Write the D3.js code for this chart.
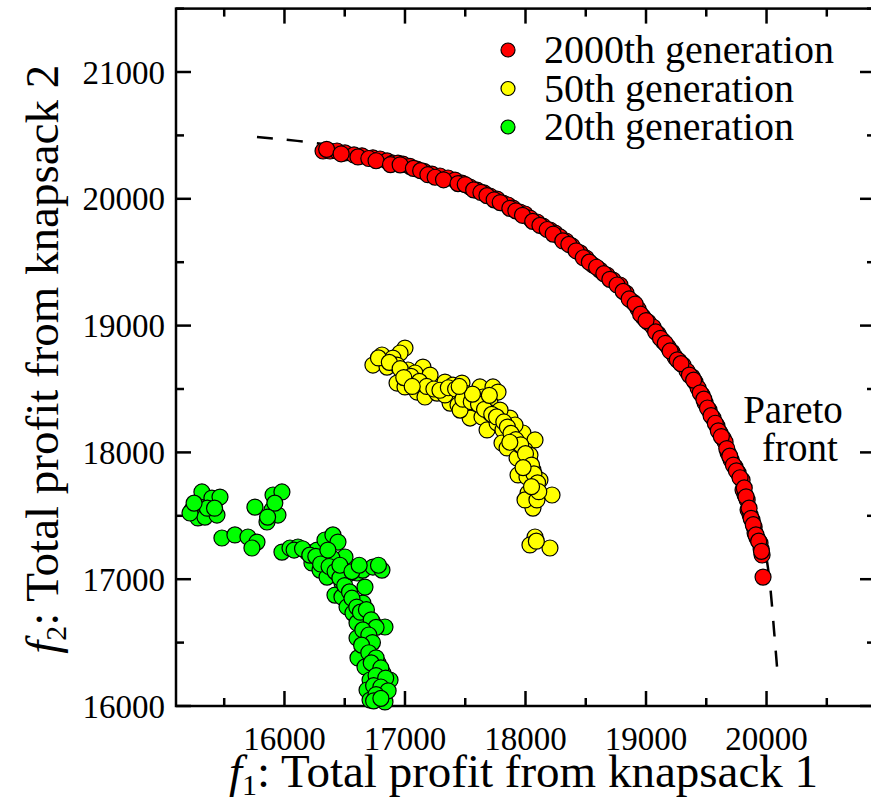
<!DOCTYPE html>
<html>
<head>
<meta charset="utf-8">
<script src="https://cdn.jsdelivr.net/npm/d3@7"></script>
<style>
  body { margin: 0; background: #fff; }
  svg text { font-family: "Liberation Serif", "DejaVu Serif", serif; fill: #000; }
</style>
</head>
<body>
<div id="chart"></div>
<script>
// series, [f1, f2]
var gen2000 = [
  [16320,20377],[16378,20377],[16436,20377],[16502,20362],[16577,20346],[16643,20339],[16734,20323],[16793,20314],
  [16851,20299],[16900,20282],[16942,20282],[16983,20274],[17041,20256],[17099,20235],[17158,20216],[17224,20195],
  [17290,20180],[17357,20164],[17415,20148],[17473,20124],[17539,20093],[17598,20069],[17656,20046],[17705,20022],
  [17764,19998],[17813,19967],[17855,19951],[17896,19927],[17954,19896],[17996,19880],[18037,19848],[18096,19817],
  [18145,19785],[18204,19754],[18245,19730],[18287,19699],[18336,19667],[18386,19628],[18453,19573],[18502,19533],
  [18560,19478],[18618,19438],[18676,19399],[18726,19359],[18784,19320],[18834,19257],[18892,19186],[18934,19131],
  [18975,19068],[19017,19028],[19058,18989],[19100,18934],[19141,18878],[19183,18831],[19216,18792],[19241,18752],
  [19274,18721],[19307,18689],[19340,18642],[19382,18595],[19407,18555],[19432,18508],[19465,18453],[19490,18390],
  [19523,18334],[19556,18271],[19589,18208],[19614,18153],[19639,18113],[19656,18082],[19681,17995],[19706,17940],
  [19739,17885],[19764,17838],[19797,17782],[19805,17703],[19822,17664],[19839,17625],[19847,17546],[19864,17506],
  [19880,17467],[19897,17412],[19905,17364],[19921,17325],[19946,17285],[19955,17238],[19963,17191],[19971,17017],
  [16350,20390],[16470,20355],[16610,20330],[16700,20318],[16760,20300],[16880,20270],[16960,20268],[17070,20240],
  [17130,20222],[17190,20190],[17250,20170],[17320,20150],[17440,20120],[17500,20112],[17570,20070],[17630,20050],
  [17680,20025],[17740,19992],[17790,19970],[17870,19925],[17920,19905],[17975,19870],[18060,19822],[18120,19790],
  [18180,19758],[18230,19722],[18310,19668],[18360,19640],[18420,19590],[18480,19535],[18530,19500],[18590,19460],
  [18650,19410],[18700,19365],[18760,19320],[18810,19270],[18860,19210],[18910,19170],[18955,19090],[19000,19040],
  [19080,18950],[19120,18900],[19160,18860],[19200,18800],[19260,18730],[19290,18700],[19360,18610],[19395,18570],
  [19450,18470],[19480,18420],[19510,18350],[19540,18290],[19575,18230],[19600,18170],[19625,18125],[19670,18030],
  [19695,17970],[19725,17900],[19750,17855],[19780,17800],[19815,17720],[19830,17650],[19855,17560],[19872,17480],
  [19890,17430],[19912,17350],[19935,17300],[19958,17220]
];

var gen50 = [
  [17000,18823],[16959,18784],[16809,18768],[16900,18744],[16734,18689],[16851,18673],[16934,18689],[17025,18650],
  [17149,18673],[17083,18626],[17208,18610],[16934,18547],[17000,18516],[17100,18476],[17166,18437],[17266,18468],
  [17332,18555],[17398,18531],[17473,18547],[17357,18476],[17432,18437],[17498,18468],[17622,18516],[17730,18516],
  [17772,18476],[17647,18437],[17374,18389],[17440,18374],[17523,18358],[17598,18350],[17706,18389],[17540,18271],
  [17639,18279],[17706,18311],[17681,18177],[17764,18232],[17871,18271],[17813,18177],[17805,18074],[17896,18121],
  [17979,18153],[18079,18098],[17847,18035],[17930,17956],[17996,18019],[18037,17924],[17938,17822],[18012,17806],
  [18062,17861],[18120,17782],[18021,17680],[18095,17703],[18220,17664],[18062,17561],[18079,17333],[18037,17270],
  [18203,17246],[17581,18413],[17332,18453],[17457,18334],[17789,18334],[17913,18216],[17954,18058],[18037,17979],
  [18079,17743],[17996,17625],[18095,17625],
  [16780,18745],[16870,18710],[16960,18660],[17050,18600],[17120,18560],[17180,18520],[17240,18500],[17290,18490],
  [17360,18510],[17420,18500],[17480,18420],[17550,18400],[17610,18380],[17660,18340],[17720,18300],[17760,18280],
  [17820,18240],[17850,18200],[17880,18150],[17920,18100],[17960,18060],[18000,17990],[18050,17900],[18070,17830],
  [18100,17760],[18110,17690],[18050,17730],[17980,17880],[17870,18080],[17560,18460],[17700,18450],[17450,18520],
  [16990,18590],[17060,18520],[18090,17300]
];

var gen20 = [
  [15315,17688],[15398,17640],[15465,17648],[15232,17546],[15299,17569],[15282,17483],[15340,17490],[15440,17506],
  [15216,17522],[15481,17325],[15589,17349],[15697,17333],[15772,17293],[15730,17246],[15755,17569],[15905,17664],
  [15979,17688],[15896,17546],[15946,17506],[15855,17451],[15979,17214],[16046,17246],[16112,17254],[16187,17214],
  [16270,17230],[16336,17309],[16402,17349],[16444,17293],[16502,17175],[16228,17128],[16320,17151],[16394,17167],
  [16295,17072],[16353,17017],[16436,17049],[16519,17033],[16602,17049],[16651,17072],[16734,17096],[16809,17072],
  [16668,16938],[16477,16970],[16419,16875],[16477,16860],[16519,16781],[16568,16733],[16651,16812],[16693,16702],
  [16734,16655],[16834,16623],[16602,16655],[16602,16536],[16685,16465],[16610,16379],[16668,16308],[16776,16339],
  [16817,16260],[16876,16205],[16710,16205],[16685,16126],[16817,16103],[16710,16047],[16834,16032],
  [16080,17230],[16150,17240],[16210,17190],[16260,17180],[16300,17120],[16370,17100],[16420,17060],[16460,17010],
  [16500,16950],[16540,16900],[16560,16850],[16600,16780],[16630,16740],[16680,16760],[16720,16680],[16760,16620],
  [16650,16600],[16700,16560],[16730,16500],[16640,16480],[16700,16420],[16760,16380],[16720,16340],[16800,16300],
  [16760,16240],[16840,16220],[16740,16160],[16800,16150],[16860,16120],[16760,16090],[16740,16040],[16800,16060],
  [16360,17230],[16460,17110],[16560,17060],[16620,17110],[16780,17110],[15360,17560],[15250,17600],[15420,17560],
  [15920,17600],[15860,17490]
];

// dashed pareto front
var paretoFront = [
  [15772,20487],[16320,20432],[16983,20314],[17539,20132],[18037,19888],[18560,19517],[18925,19210],
  [19216,18855],[19465,18524],[19656,18169],[19830,17790],[19921,17475],[19996,17183],[20029,16955],
  [20062,16599],[20087,16308]
];

var seriesNames = ["2000th generation", "50th generation", "20th generation"];
var seriesColors = ["#ff0000", "#ffff00", "#00ff00"];
var xTicks = [16000, 17000, 18000, 19000, 20000];
var yTicks = [16000, 17000, 18000, 19000, 20000, 21000];
var xMinor = [15500, 16500, 17500, 18500, 19500, 20500];
var yMinor = [16500, 17500, 18500, 19500, 20500, 21500];

(function() {
var width = 871, height = 803;
var pl = 176, pr = 875, pt = 8.6, pb = 706;

var svg = d3.select("#chart").append("svg")
    .attr("width", width)
    .attr("height", height);

var x = d3.scaleLinear().domain([15100, 20900]).range([pl, pr]);
var y = d3.scaleLinear().domain([16000, 21500]).range([pb, pt]);

// ticks, inward on all four sides
var major = 15, minor = 8;
var tickG = svg.append("g").attr("stroke", "#000").attr("stroke-width", 2.5);
xTicks.concat(xMinor).forEach(function(v) {
    var len = xTicks.indexOf(v) >= 0 ? major : minor;
    tickG.append("line").attr("x1", x(v)).attr("x2", x(v)).attr("y1", pb).attr("y2", pb - len);
    tickG.append("line").attr("x1", x(v)).attr("x2", x(v)).attr("y1", pt).attr("y2", pt + len);
});
yTicks.concat(yMinor).forEach(function(v) {
    var len = yTicks.indexOf(v) >= 0 ? major : minor;
    tickG.append("line").attr("y1", y(v)).attr("y2", y(v)).attr("x1", pl).attr("x2", pl + len);
    tickG.append("line").attr("y1", y(v)).attr("y2", y(v)).attr("x1", pr).attr("x2", pr - len);
});

svg.append("rect")
    .attr("x", pl).attr("y", pt)
    .attr("width", pr - pl).attr("height", pb - pt)
    .attr("fill", "none").attr("stroke", "#000").attr("stroke-width", 2.5);

// tick labels
svg.selectAll(".xlab").data(xTicks).enter().append("text")
    .attr("x", function(d) { return x(d); })
    .attr("y", 750)
    .attr("text-anchor", "middle")
    .style("font-size", "33px")
    .text(function(d) { return d; });

svg.selectAll(".ylab").data(yTicks).enter().append("text")
    .attr("x", 165)
    .attr("y", function(d) { return y(d); })
    .attr("dy", "0.35em")
    .attr("text-anchor", "end")
    .style("font-size", "33px")
    .text(function(d) { return d; });

// axis titles
var xt = svg.append("text")
    .attr("x", (pl + pr) / 2 - 2).attr("y", 787)
    .attr("text-anchor", "middle")
    .style("font-size", "47px");
xt.append("tspan").style("font-style", "italic").text("f");
xt.append("tspan").attr("dy", 8).style("font-size", "30px").text("1");
xt.append("tspan").attr("dy", -8).text(": Total profit from knapsack 1");

var yt = svg.append("text")
    .attr("transform", "translate(58," + ((pt + pb) / 2 + 2) + ")rotate(-90)")
    .attr("text-anchor", "middle")
    .style("font-size", "47px");
yt.append("tspan").style("font-style", "italic").text("f");
yt.append("tspan").attr("dy", 8).style("font-size", "30px").text("2");
yt.append("tspan").attr("dy", -8).text(": Total profit from knapsack 2");

// pareto front
var line = d3.line()
    .x(function(d) { return x(d[0]); })
    .y(function(d) { return y(d[1]); })
    .curve(d3.curveCatmullRom);

svg.append("path")
    .datum(paretoFront)
    .attr("d", line)
    .attr("fill", "none")
    .attr("stroke", "#000")
    .attr("stroke-width", 2.5)
    .attr("stroke-dasharray", "16,14");

// scatter
[gen20, gen50, gen2000].forEach(function(data, k) {
    var color = seriesColors[2 - k];
    svg.append("g").selectAll("circle")
        .data(data)
        .enter()
        .append("circle")
        .attr("cx", function(d) { return x(d[0]); })
        .attr("cy", function(d) { return y(d[1]); })
        .attr("r", 8)
        .attr("fill", color)
        .attr("stroke", "#000")
        .attr("stroke-width", 1.2);
});

svg.append("text")
    .attr("x", 793).attr("y", 423)
    .attr("text-anchor", "middle")
    .style("font-size", "39px")
    .text("Pareto");
svg.append("text")
    .attr("x", 800).attr("y", 461)
    .attr("text-anchor", "middle")
    .style("font-size", "39px")
    .text("front");

// legend
var legend = svg.selectAll(".legend")
    .data(seriesNames)
    .enter()
    .append("g")
    .attr("class", "legend")
    .attr("transform", function(d, i) { return "translate(508," + (50 + i * 38.5) + ")"; });

legend.append("circle")
    .attr("r", 7)
    .attr("fill", function(d, i) { return seriesColors[i]; })
    .attr("stroke", "#000")
    .attr("stroke-width", 1.2);

legend.append("text")
    .attr("x", 36)
    .attr("dy", "0.33em")
    .style("font-size", "40px")
    .text(function(d) { return d; });
})();
</script>
</body>
</html>
